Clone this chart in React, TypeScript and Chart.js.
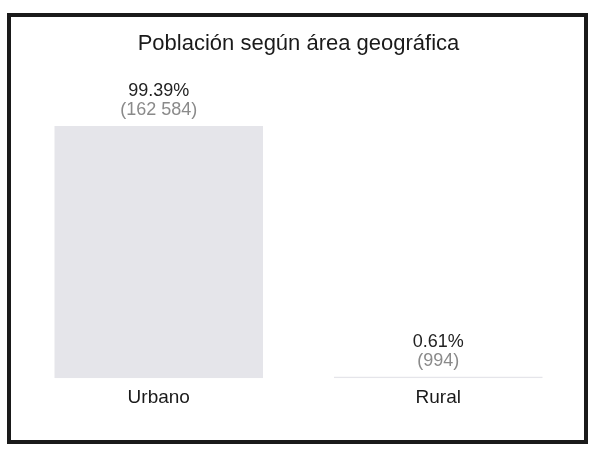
import React, { useEffect, useRef } from "react";
import { Chart, registerables } from "chart.js";

Chart.register(...registerables);

const categories = ["Urbano", "Rural"];
const percentages = [99.39, 0.61];
const counts = ["162 584", "994"];
const chartTitle = "Población según área geográfica";

const FONT = "'Liberation Sans', Arial, sans-serif";

const valueLabels = {
  id: "valueLabels",
  afterDatasetsDraw(chart: any) {
    const ctx = chart.ctx;
    const meta = chart.getDatasetMeta(0);
    ctx.save();
    ctx.textAlign = "center";
    ctx.textBaseline = "middle";
    meta.data.forEach((bar: any, i: number) => {
      const top = bar.y;
      ctx.font = `18px ${FONT}`;
      ctx.fillStyle = "#222222";
      ctx.fillText(percentages[i].toFixed(2) + "%", bar.x, top - 35);
      ctx.font = `18px ${FONT}`;
      ctx.fillStyle = "#8a8a8a";
      ctx.fillText("(" + counts[i] + ")", bar.x, top - 16);
    });
    ctx.restore();
  },
};

export default function App() {
  const ref = useRef<HTMLCanvasElement>(null);
  useEffect(() => {
    if (!ref.current) return;
    const chart = new Chart(ref.current, {
      type: "bar",
      data: {
        labels: categories,
        datasets: [
          {
            data: percentages,
            backgroundColor: "#e5e5ea",
            borderWidth: 0,
            barPercentage: 0.746,
            categoryPercentage: 1,
            minBarLength: 1,
          },
        ],
      },
      options: {
        responsive: false,
        animation: false,
        layout: { padding: { left: 19, right: 11, top: 0, bottom: 33 } },
        plugins: {
          legend: { display: false },
          tooltip: { enabled: false },
          title: {
            display: true,
            text: chartTitle,
            color: "#1a1a1a",
            font: { family: FONT, size: 22, weight: "normal" },
            padding: { top: 31, bottom: 67 },
          },
        },
        scales: {
          x: {
            grid: { display: false, drawTicks: false },
            border: { display: false },
            ticks: {
              color: "#1a1a1a",
              font: { family: FONT, size: 19 },
              padding: 8,
            },
          },
          y: { display: false, min: 0, max: 100 },
        },
      },
      plugins: [valueLabels],
    });
    return () => chart.destroy();
  }, []);
  return (
    <div style={{ position: "fixed", left: 0, top: 0, width: 589, height: 450, background: "#ffffff" }}>
      <canvas ref={ref} width={589} height={450} style={{ position: "absolute", left: 0, top: 0 }} />
      <div
        style={{
          position: "absolute",
          left: 7,
          top: 13,
          width: 581,
          height: 431,
          boxSizing: "border-box",
          border: "4px solid #1a1a1a",
          pointerEvents: "none",
        }}
      />
    </div>
  );
}
